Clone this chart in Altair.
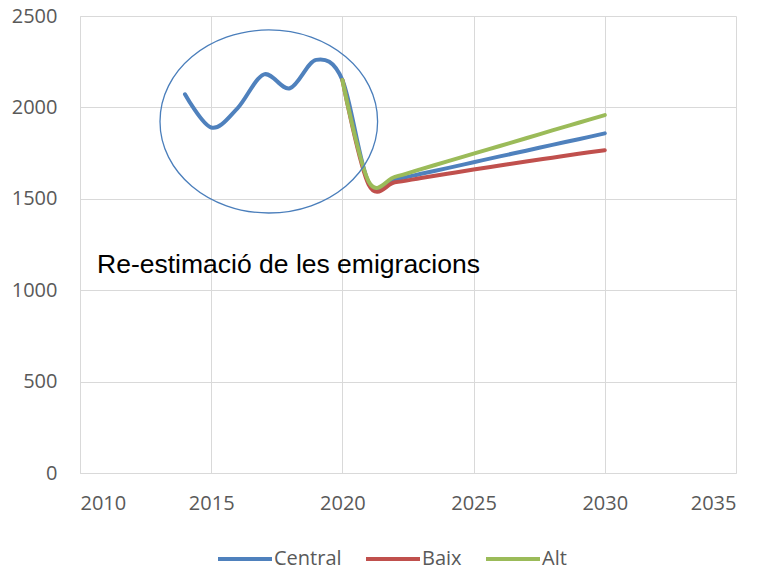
import altair as alt
import pandas as pd

# ---- data ----
central_years = list(range(2014, 2031))
central_vals = [2072, 1890, 1995, 2180, 2105, 2260, 2150, 1588, 1605,
                1637, 1668, 1700, 1732, 1763, 1795, 1826, 1858]
baix_years = list(range(2020, 2031))
baix_vals = [2150, 1578, 1590, 1614, 1637, 1660, 1682, 1704, 1725, 1746, 1766]
alt_years = list(range(2020, 2031))
alt_vals = [2150, 1595, 1620, 1662, 1705, 1747, 1789, 1831, 1874, 1916, 1958]

series_names = ["Central", "Baix", "Alt"]
series_colors = ["#4F81BD", "#C0504D", "#9BBB59"]
annotation_text = ["Re-estimació de les emigracions"]

rows = []
for name, ys, vs in [("Central", central_years, central_vals),
                     ("Baix", baix_years, baix_vals),
                     ("Alt", alt_years, alt_vals)]:
    for y, v in zip(ys, vs):
        rows.append({"year": y, "value": v, "serie": name})
df = pd.DataFrame(rows)

xscale = alt.Scale(domain=[2010, 2035], nice=False, zero=False)
yscale = alt.Scale(domain=[0, 2500], nice=False)
color_scale = alt.Scale(domain=series_names, range=series_colors)

def line_for(name):
    return alt.Chart(df).transform_filter(alt.datum.serie == name).mark_line(
        interpolate="cardinal", strokeWidth=4, strokeCap="round"
    ).encode(
        x=alt.X("year:Q", scale=xscale,
                axis=alt.Axis(values=[2010, 2015, 2020, 2025, 2030, 2035], format="d", title=None)),
        y=alt.Y("value:Q", scale=yscale,
                axis=alt.Axis(values=[0, 500, 1000, 1500, 2000, 2500], format="d", title=None)),
        color=alt.Color("serie:N", scale=color_scale, sort=series_names,
                        legend=alt.Legend(title=None, orient="none", direction="horizontal",
                                          legendX=136, legendY=514,
                                          symbolType="stroke", symbolSize=2916,
                                          symbolStrokeWidth=4, labelOffset=0,
                                          columnPadding=16, padding=0, gridAlign="each",
                                          labelFont="Open Sans", labelFontSize=20,
                                          labelColor="#595959")),
    )

ellipse = alt.Chart(pd.DataFrame({"k": [0]})).mark_point(
    shape="M -1 0 A 1 0.841 0 1 1 1 0 A 1 0.841 0 1 1 -1 0 Z",
    size=47350, filled=False, stroke="#4A7EBB", strokeWidth=1.3, opacity=1
).encode(x=alt.datum(2017.195, scale=xscale), y=alt.datum(1923, scale=yscale))

label = alt.Chart(pd.DataFrame({"t": annotation_text})).mark_text(
    align="left", baseline="alphabetic", font="Liberation Sans", fontSize=26.5, color="#000000"
).encode(x=alt.datum(2010.65), y=alt.datum(1095), text="t:N")

chart = alt.layer(
    line_for("Central"), line_for("Baix"), line_for("Alt"), ellipse, label
).properties(
    width=656, height=457,
    autosize=alt.AutoSizeParams(type="none"),
    padding={"left": 72, "top": 8, "right": 15, "bottom": 92},
).configure_view(stroke=None).configure_axis(
    grid=True, gridColor="#D9D9D9", gridWidth=1,
    domainColor="#D9D9D9", domainWidth=1, ticks=False,
    labelFont="Open Sans", labelFontSize=20, labelColor="#595959",
).configure_axisY(labelPadding=23).configure_axisX(labelPadding=20)

chart.save("out.html", embed_options={"renderer": "svg", "actions": False})
